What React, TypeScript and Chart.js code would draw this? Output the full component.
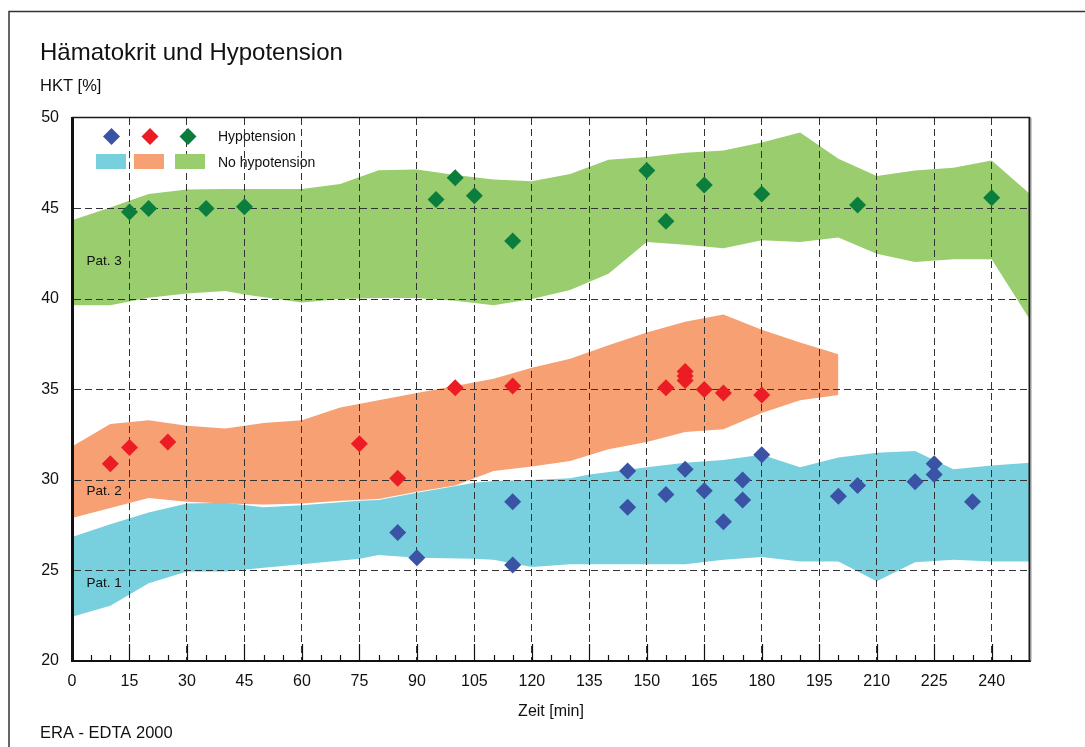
import { useEffect, useRef } from "react";
import { Chart, registerables } from "chart.js";

Chart.register(...registerables);

const FONT = "'Liberation Sans', Arial, Helvetica, sans-serif";

const TITLE = "Hämatokrit und Hypotension";
const Y_TITLE = "HKT [%]";
const X_TITLE = "Zeit [min]";
const SOURCE = "ERA - EDTA 2000";
const LEGEND_HYPO = "Hypotension";
const LEGEND_NO_HYPO = "No hypotension";

const xTicks = [0, 15, 30, 45, 60, 75, 90, 105, 120, 135, 150, 165, 180, 195, 210, 225, 240];
const yTicks = [20, 25, 30, 35, 40, 45, 50];
const X_MIN = 0;
const X_MAX = 250;

const COLORS = {
  band1: "#78cfde",
  band2: "#f6a073",
  band3: "#99cd6d",
  dot1: "#3a53a4",
  dot2: "#ec1c24",
  dot3: "#0b7e3e",
};

// Pat. 1 – range without hypotension
const pat1X = [0, 10, 20, 30, 40, 50, 60, 75, 80, 90, 105, 110, 120, 130, 135, 150, 160, 170, 180, 190, 200, 210, 220, 230, 240, 250];
const pat1Upper = [26.85, 27.55, 28.2, 28.7, 28.75, 28.5, 28.6, 28.85, 28.9, 29.3, 29.85, 29.95, 30.0, 30.1, 30.3, 30.7, 30.95, 31.1, 31.4, 30.7, 31.25, 31.5, 31.6, 30.6, 30.8, 30.95];
const pat1Lower = [22.45, 23.05, 24.3, 24.95, 24.95, 25.15, 25.35, 25.65, 25.85, 25.7, 25.65, 25.6, 25.2, 25.35, 25.35, 25.35, 25.35, 25.6, 25.75, 25.5, 25.5, 24.4, 25.45, 25.6, 25.5, 25.5];

// Pat. 2 – range without hypotension
const pat2X = [0, 10, 20, 30, 40, 50, 60, 70, 80, 90, 100, 110, 120, 130, 140, 150, 160, 170, 180, 190, 200];
const pat2Upper = [31.85, 33.1, 33.3, 33.0, 32.85, 33.15, 33.3, 34.0, 34.4, 34.8, 35.2, 35.6, 36.2, 36.7, 37.45, 38.15, 38.75, 39.15, 38.3, 37.6, 36.95];
const pat2Lower = [27.9, 28.45, 29.0, 28.8, 28.7, 28.65, 28.7, 28.85, 28.95, 29.35, 29.7, 30.5, 30.75, 31.05, 31.7, 32.1, 32.65, 32.8, 33.7, 34.4, 34.7];

// Pat. 3 – range without hypotension
const pat3X = [0, 10, 20, 30, 40, 45, 60, 70, 80, 90, 100, 110, 120, 130, 140, 150, 160, 170, 180, 190, 200, 210, 220, 230, 240, 250];
const pat3Upper = [44.35, 45.05, 45.8, 46.05, 46.08, 46.08, 46.08, 46.35, 47.12, 47.15, 46.85, 46.6, 46.5, 46.9, 47.7, 47.85, 48.08, 48.2, 48.65, 49.2, 47.75, 46.8, 47.1, 47.25, 47.65, 45.8];
const pat3Lower = [39.65, 39.65, 40.07, 40.3, 40.44, 40.25, 39.8, 40.0, 40.05, 40.05, 39.9, 39.65, 40.0, 40.5, 41.4, 43.15, 43.0, 42.8, 43.25, 43.15, 43.4, 42.5, 42.05, 42.2, 42.2, 38.85];

// Measurements during hypotension
const hypo1X = [85, 90, 115, 115, 145, 145, 155, 160, 165, 170, 175, 175, 180, 200, 205, 220, 225, 225, 235];
const hypo1Y = [27.1, 25.7, 28.8, 25.3, 30.5, 28.5, 29.2, 30.6, 29.4, 27.7, 30.0, 28.9, 31.4, 29.1, 29.7, 29.9, 30.9, 30.3, 28.8];

const hypo2X = [10, 15, 25, 75, 85, 100, 115, 155, 160, 160, 160, 165, 170, 180];
const hypo2Y = [30.9, 31.8, 32.1, 32.0, 30.1, 35.1, 35.2, 35.1, 36.0, 35.75, 35.5, 35.0, 34.8, 34.7];

const hypo3X = [15, 20, 35, 45, 95, 100, 105, 115, 150, 155, 165, 180, 205, 240];
const hypo3Y = [44.8, 45.0, 45.0, 45.1, 45.5, 46.7, 45.7, 43.2, 47.1, 44.3, 46.3, 45.8, 45.2, 45.6];

const patLabels = ["Pat. 1", "Pat. 2", "Pat. 3"];
const patLabelY = [24.1, 29.15, 41.9];

const pts = (xs: number[], ys: number[]) => xs.map((x, i) => ({ x, y: ys[i] }));

function band(xs: number[], upper: number[], lower: number[], color: string) {
  return [
    {
      type: "line" as const,
      data: pts(xs, upper),
      fill: "+1",
      backgroundColor: color,
      borderColor: "rgba(0,0,0,0)",
      borderWidth: 0,
      pointRadius: 0,
      tension: 0,
      order: 2,
    },
    {
      type: "line" as const,
      data: pts(xs, lower),
      fill: false,
      backgroundColor: color,
      borderColor: "rgba(0,0,0,0)",
      borderWidth: 0,
      pointRadius: 0,
      tension: 0,
      order: 2,
    },
  ];
}

function dots(xs: number[], ys: number[], color: string) {
  return {
    type: "scatter" as const,
    data: pts(xs, ys),
    showLine: false,
    pointStyle: "rectRot" as const,
    pointRadius: 8.5,
    pointBackgroundColor: color,
    pointBorderWidth: 0,
    pointBorderColor: color,
    order: 1,
  };
}

function diamond(ctx: CanvasRenderingContext2D, x: number, y: number, r: number, color: string) {
  ctx.fillStyle = color;
  ctx.beginPath();
  ctx.moveTo(x - r, y);
  ctx.lineTo(x, y - r);
  ctx.lineTo(x + r, y);
  ctx.lineTo(x, y + r);
  ctx.closePath();
  ctx.fill();
}

const decorations = {
  id: "decorations",
  afterDraw(chart: any) {
    const { ctx, chartArea: a, scales } = chart;
    const xs = scales.x;
    const ys = scales.y;
    ctx.save();

    // page frame
    ctx.strokeStyle = "#333";
    ctx.lineWidth = 1.5;
    ctx.beginPath();
    ctx.moveTo(9, 747);
    ctx.lineTo(9, 11.5);
    ctx.lineTo(1085, 11.5);
    ctx.stroke();

    // plot frame: top and right
    ctx.strokeStyle = "#1a1a1a";
    ctx.lineWidth = 1.5;
    ctx.beginPath();
    ctx.moveTo(a.left, a.top - 0.5);
    ctx.lineTo(a.right, a.top - 0.5);
    ctx.stroke();
    ctx.lineWidth = 2;
    ctx.beginPath();
    ctx.moveTo(a.right - 0.5, a.top - 1);
    ctx.lineTo(a.right - 0.5, a.bottom);
    ctx.stroke();
    ctx.strokeStyle = "#9a9a9a";
    ctx.lineWidth = 1;
    ctx.beginPath();
    ctx.moveTo(a.right + 1, a.top);
    ctx.lineTo(a.right + 1, a.bottom);
    ctx.stroke();

    // tick marks along the time axis
    ctx.strokeStyle = "#111";
    ctx.lineWidth = 1.2;
    for (let m = 5; m < X_MAX; m += 5) {
      const px = Math.round(xs.getPixelForValue(m)) + 0.5;
      const len = m % 15 === 0 ? 17 : 6;
      ctx.beginPath();
      ctx.moveTo(px, a.bottom);
      ctx.lineTo(px, a.bottom - len);
      ctx.stroke();
    }

    // texts
    ctx.fillStyle = "#111";
    ctx.textAlign = "left";
    ctx.textBaseline = "alphabetic";
    ctx.font = `24px ${FONT}`;
    ctx.fillText(TITLE, 40, 60);
    ctx.font = `16.5px ${FONT}`;
    ctx.fillText(Y_TITLE, 40, 90.5);
    ctx.fillText(SOURCE, 40, 738);
    ctx.font = `16px ${FONT}`;
    ctx.textAlign = "center";
    ctx.fillText(X_TITLE, (a.left + a.right) / 2, 716);

    // patient labels
    ctx.textAlign = "left";
    ctx.font = `13.5px ${FONT}`;
    patLabels.forEach((t, i) => {
      ctx.fillText(t, a.left + 14.5, ys.getPixelForValue(patLabelY[i]));
    });

    // legend
    const lx = a.left;
    const ly = a.top;
    diamond(ctx, lx + 39.5, ly + 18.5, 8.5, COLORS.dot1);
    diamond(ctx, lx + 78, ly + 18.5, 8.5, COLORS.dot2);
    diamond(ctx, lx + 116, ly + 18.5, 8.5, COLORS.dot3);
    ctx.fillStyle = COLORS.band1;
    ctx.fillRect(lx + 24, ly + 36, 30, 15);
    ctx.fillStyle = COLORS.band2;
    ctx.fillRect(lx + 62, ly + 36, 30, 15);
    ctx.fillStyle = COLORS.band3;
    ctx.fillRect(lx + 103, ly + 36, 30, 15);
    ctx.fillStyle = "#111";
    ctx.font = `14px ${FONT}`;
    ctx.fillText(LEGEND_HYPO, lx + 146, ly + 23);
    ctx.fillText(LEGEND_NO_HYPO, lx + 146, ly + 48.5);

    ctx.restore();
  },
};

export default function App() {
  const ref = useRef<HTMLCanvasElement | null>(null);

  useEffect(() => {
    if (!ref.current) return;
    Chart.defaults.font.family = FONT;
    const chart = new Chart(ref.current, {
      type: "scatter",
      data: {
        datasets: [
          dots(hypo1X, hypo1Y, COLORS.dot1),
          dots(hypo2X, hypo2Y, COLORS.dot2),
          dots(hypo3X, hypo3Y, COLORS.dot3),
          ...band(pat1X, pat1Upper, pat1Lower, COLORS.band1),
          ...band(pat2X, pat2Upper, pat2Lower, COLORS.band2),
          ...band(pat3X, pat3Upper, pat3Lower, COLORS.band3),
        ] as any,
      },
      options: {
        responsive: false,
        animation: false,
        devicePixelRatio: 1,
        layout: { padding: { left: 30, top: 118, right: 55, bottom: 0 } },
        plugins: {
          legend: { display: false },
          tooltip: { enabled: false },
          title: { display: false },
          // bands go beneath the dashed grid, diamonds above it
          filler: { drawTime: "beforeDraw" },
        },
        scales: {
          x: {
            type: "linear",
            min: X_MIN,
            max: X_MAX,
            afterFit: (s: any) => {
              s.height = 86;
            },
            afterBuildTicks: (s: any) => {
              s.ticks = xTicks.map((v) => ({ value: v }));
            },
            ticks: {
              autoSkip: false,
              maxRotation: 0,
              padding: 11,
              color: "#111",
              font: { size: 16, family: FONT },
              callback: (v: any) => String(v),
            },
            grid: {
              drawTicks: false,
              color: (c: any) => (c.tick && c.tick.value === X_MIN ? "rgba(0,0,0,0)" : "#333"),
              lineWidth: 1,
            },
            border: { display: true, color: "#111", width: 2, dash: [7, 4] },
          },
          y: {
            type: "linear",
            min: yTicks[0],
            max: yTicks[yTicks.length - 1],
            afterFit: (s: any) => {
              s.width = 42;
            },
            afterBuildTicks: (s: any) => {
              s.ticks = yTicks.map((v) => ({ value: v }));
            },
            ticks: {
              padding: 13,
              color: "#111",
              font: { size: 16, family: FONT },
              callback: (v: any) => String(v),
            },
            grid: {
              drawTicks: false,
              color: (c: any) =>
                c.tick && (c.tick.value === yTicks[0] || c.tick.value === yTicks[yTicks.length - 1])
                  ? "rgba(0,0,0,0)"
                  : "#333",
              lineWidth: 1,
            },
            border: { display: true, color: "#111", width: 3, dash: [7, 4] },
          },
        },
      } as any,
      plugins: [decorations],
    });
    return () => chart.destroy();
  }, []);

  return (
    <div style={{ position: "fixed", left: 0, top: 0, width: 1085, height: 747, background: "#fff" }}>
      <canvas ref={ref} width={1085} height={747} style={{ display: "block", width: 1085, height: 747 }} />
    </div>
  );
}
